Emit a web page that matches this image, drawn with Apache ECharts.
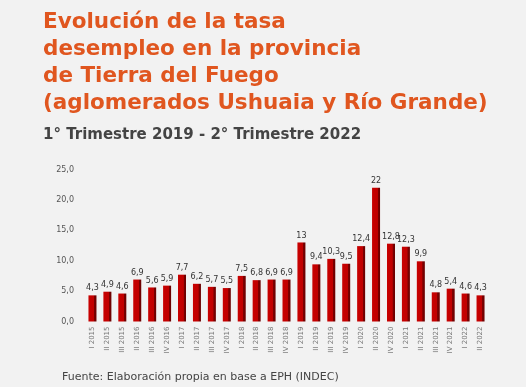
<!DOCTYPE html>
<html>
<head>
<meta charset="utf-8">
<script src="https://cdn.jsdelivr.net/npm/echarts@6/dist/echarts.min.js"></script>
<style>
html,body{margin:0;padding:0;background:#f2f2f2;}
#c{width:526px;height:387px;}
</style>
</head>
<body>
<div id="c"></div>
<script>
const categories = ['I 2015','II 2015','III 2015','II 2016','III 2016','IV 2016','I 2017','II 2017','III 2017','IV 2017','I 2018','II 2018','III 2018','IV 2018','I 2019','II 2019','III 2019','IV 2019','I 2020','II 2020','IV 2020','I 2021','II 2021','III 2021','IV 2021','I 2022','II 2022'];
const tasa = [4.3,4.9,4.6,6.9,5.6,5.9,7.7,6.2,5.7,5.5,7.5,6.8,6.9,6.9,13,9.4,10.3,9.5,12.4,22,12.8,12.3,9.9,4.8,5.4,4.6,4.3];
const yTicks = [0,5,10,15,20,25];

const chart = echarts.init(document.getElementById('c'), null, {renderer:'canvas'});
chart.setOption({
  backgroundColor:'#f2f2f2',
  animation:false,
  title:[
    {text:'Evolución de la tasa\ndesempleo en la provincia\nde Tierra del Fuego\n(aglomerados Ushuaia y Río Grande)',
     left:38, top:4,
     textStyle:{color:'#e0561f', fontFamily:'DejaVu Sans', fontWeight:'bold', fontSize:21.5, lineHeight:27}},
    {text:'1° Trimestre 2019 - 2° Trimestre 2022', left:38, top:123,
     textStyle:{color:'#444', fontFamily:'DejaVu Sans', fontWeight:'bold', fontSize:15}},
    {text:'Fuente: Elaboración propia en base a EPH (INDEC)', left:57, top:367,
     textStyle:{color:'#444', fontFamily:'DejaVu Sans', fontWeight:'normal', fontSize:11}}
  ],
  grid:{left:85, right:38, top:169.5, bottom:65.5},
  xAxis:{type:'category', data:categories,
    axisLine:{show:false}, axisTick:{show:false},
    axisLabel:{rotate:90, interval:0, fontSize:7, color:'#777', fontFamily:'DejaVu Sans', margin:5}},
  yAxis:{type:'value', min:yTicks[0], max:yTicks[yTicks.length-1], interval:5,
    axisLine:{show:false}, axisTick:{show:false}, splitLine:{show:false},
    axisLabel:{fontSize:8, color:'#555', fontFamily:'DejaVu Sans', margin:11,
      formatter:v=>v.toFixed(1).replace('.',',')}},
  series:[{type:'bar', data:tasa, barWidth:8,
    itemStyle:{color:new echarts.graphic.LinearGradient(0,0,1,0,[
      {offset:0,color:'#c80000'},{offset:0.68,color:'#c00000'},
      {offset:0.72,color:'#7d0000'},{offset:1,color:'#6a0000'}])},
    label:{show:true, position:'top', distance:3, fontSize:8, color:'#333', fontFamily:'DejaVu Sans',
      formatter:p=>String(p.value).replace('.',',')}}]
});
</script>
</body>
</html>
